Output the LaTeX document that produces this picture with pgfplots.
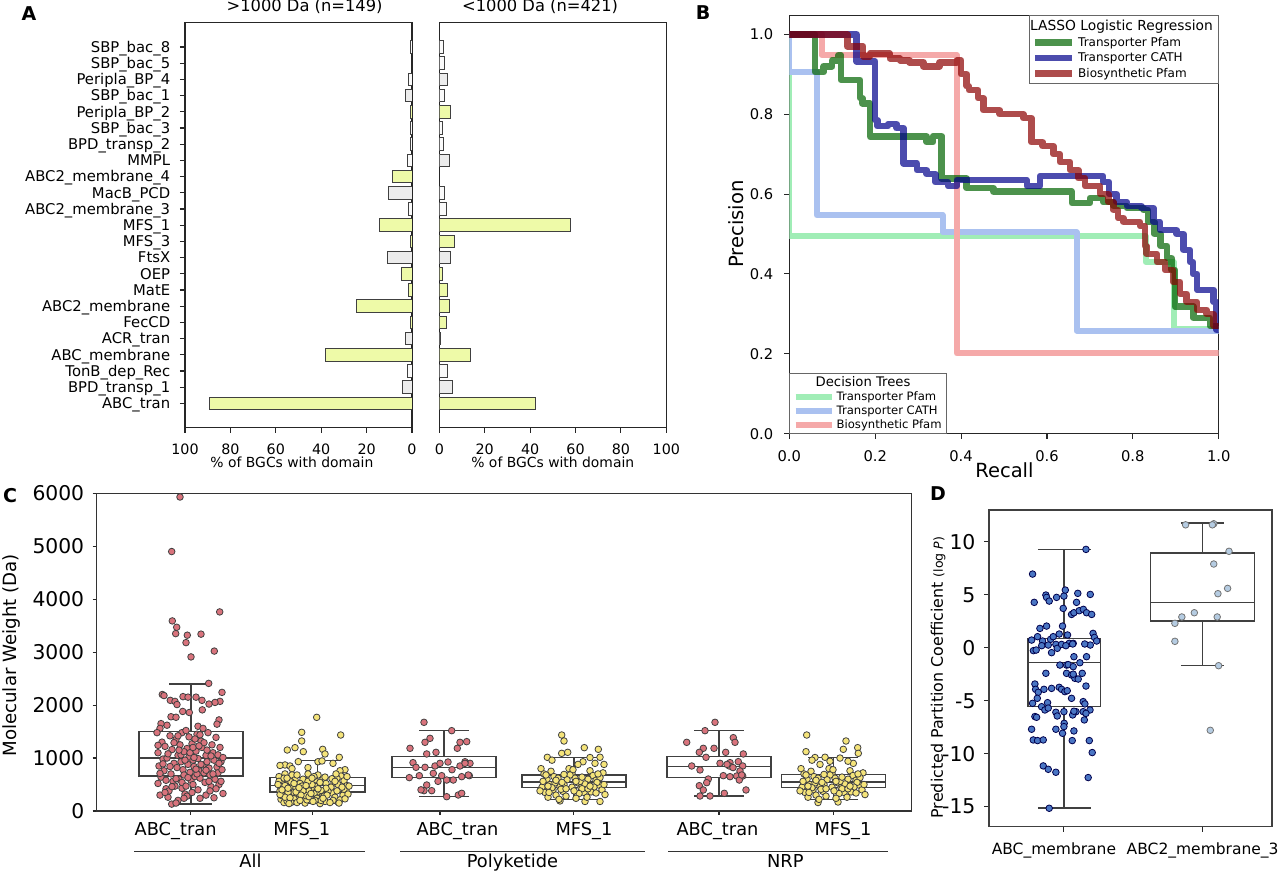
\documentclass[border=0pt]{standalone}
\usepackage{fontspec}
\setmainfont{DejaVu Sans}
\usepackage{pgfplots}
\pgfplotsset{compat=1.18}
\usepgfplotslibrary{statistics}
\definecolor{barY}{HTML}{EEFAA8}
\definecolor{barG}{HTML}{ECECEC}
\definecolor{barW}{HTML}{FAFAFA}
\definecolor{ptR}{HTML}{D9737C}
\definecolor{ptY}{HTML}{F5E47A}
\definecolor{ptB}{HTML}{4A76C4}
\definecolor{ptL}{HTML}{B5CCE2}
\definecolor{dtG}{HTML}{A0EDB6}
\definecolor{dtB}{HTML}{AAC1F0}
\definecolor{dtR}{HTML}{F5A9A9}
\definecolor{lsG}{RGB}{0,100,0}
\definecolor{lsB}{RGB}{0,0,139}
\definecolor{lsR}{RGB}{139,0,0}
\pgfplotsset{
  myax/.style={scale only axis, anchor=south west,
    axis line style={line width=1.1pt, black!85},
    tick style={line width=1.1pt, black!85},
    major tick length=5pt, tick align=outside, tick pos=left,
    /pgf/number format/assume math mode=true,
    /pgf/number format/1000 sep={}},
  Aax/.style={myax, width=227pt, height=405pt, xbar, bar width=0.78, bar shift=0pt,
    xmin=0, xmax=100, ymin=-1.5, ymax=23.5, xtick={0,20,40,60,80,100},
    xticklabel style={font=\fontsize{14.3}{16}\selectfont, anchor=base, yshift=-22pt},
    xlabel style={font=\fontsize{13.9}{16}\selectfont, anchor=base},
    title style={font=\fontsize{16.3}{18}\selectfont, anchor=base}},
  bY/.style={draw=black!75, line width=0.9pt, fill=barY},
  bG/.style={draw=black!75, line width=0.9pt, fill=barG},
  bW/.style={draw=black!75, line width=0.9pt, fill=barW},
}
\begin{document}
\begin{tikzpicture}[x=1pt,y=1pt]
\useasboundingbox (0,0) rectangle (1280,872);

% ---------------- Panel A left
\begin{axis}[Aax, at={(185pt,444.3pt)}, x dir=reverse,
  ytick={0,...,22},
  yticklabels={ABC\_tran, BPD\_transp\_1, TonB\_dep\_Rec, ABC\_membrane, ACR\_tran, FecCD, ABC2\_membrane, MatE, OEP, FtsX, MFS\_3, MFS\_1, ABC2\_membrane\_3, MacB\_PCD, ABC2\_membrane\_4, MMPL, BPD\_transp\_2, SBP\_bac\_3, Peripla\_BP\_2, SBP\_bac\_1, Peripla\_BP\_4, SBP\_bac\_5, SBP\_bac\_8},
  yticklabel style={font=\fontsize{14.8}{16}\selectfont, anchor=base east, xshift=-6.3pt, yshift=-5.4pt},
  xlabel={\% of BGCs with domain}, xlabel style={at={(axis description cs:0.471,0)}, yshift=-39.7pt},
  title={>1000 Da (n=149)}, title style={at={(axis description cs:0.527,1)}, yshift=4.7pt}]
\addplot[bY] coordinates {(89.3,0) (38.3,3) (0.7,5) (24.4,6) (1.5,7) (4.8,8) (0.7,10) (14.4,11) (8.8,14) (0.7,18)};
\addplot[bG] coordinates {(4.3,1) (2.8,4) (10.9,9) (10.3,13) (2.8,19)};
\addplot[bW] coordinates {(2.0,2) (1.5,12) (2.0,15) (0.7,16) (0.7,17) (1.5,20) (0.7,22)};
\end{axis}

% ---------------- Panel A right
\begin{axis}[Aax, at={(439.3pt,444.3pt)}, ytick=\empty,
  xlabel={\% of BGCs with domain}, xlabel style={at={(axis description cs:0.5,0)}, yshift=-39.7pt},
  title={<1000 Da (n=421)}, title style={at={(axis description cs:0.444,1)}, yshift=4.7pt}]
\addplot[bY] coordinates {(42.5,0) (13.7,3) (3.2,5) (4.4,6) (3.7,7) (1.6,8) (6.8,10) (57.8,11) (5.1,18)};
\addplot[bG] coordinates {(5.7,1) (0.4,4) (5.1,9) (4.4,15) (3.7,20)};
\addplot[bW] coordinates {(3.7,2) (3.1,12) (2.4,13) (1.8,16) (1.3,17) (2.4,19) (2.1,21) (1.8,22)};
\end{axis}

% ---------------- Panel B: decision trees
\begin{axis}[myax, at={(789.3pt,438.3pt)}, width=429.4pt, height=418.4pt,
  xmin=0, xmax=1, ymin=0, ymax=1.0476,
  xtick={0,0.2,0.4,0.6,0.8,1}, ytick={0,0.2,0.4,0.6,0.8,1},
  /pgf/number format/fixed, /pgf/number format/fixed zerofill, /pgf/number format/precision=1,
  xticklabel style={font=\fontsize{14.7}{16}\selectfont, anchor=base, yshift=-23pt},
  yticklabel style={font=\fontsize{14.7}{16}\selectfont, anchor=base east, xshift=-7.6pt, yshift=-5.4pt},
  xlabel={Recall}, xlabel style={font=\fontsize{19.5}{22}\selectfont, at={(axis description cs:0.501,0)}, anchor=base, yshift=-43.5pt},
  ylabel={Precision}, ylabel style={font=\fontsize{19.6}{22}\selectfont, at={(axis description cs:-0.123,0.501)}, anchor=center},
  legend image code/.code={\draw[#1] (0pt,0pt) -- (36pt,0pt);},
  legend cell align=left,
  legend style={at={(0,0)}, anchor=south west, draw=black!60, line width=0.8pt,
    font=\fontsize{11.6}{13}\selectfont, inner xsep=3pt, inner ysep=1pt,
    nodes={inner sep=2pt}}]
\addlegendimage{empty legend}
\addlegendentry{\hspace*{-21pt}\fontsize{13.2}{15}\selectfont Decision Trees}
\addplot[const plot, dtG, line width=6pt, line join=round] coordinates {(0,1) (0,0.494) (0.83,0.43) (0.895,0.262) (1,0.262)};
\addlegendentry{Transporter Pfam}
\addplot[const plot, dtB, line width=6pt, line join=round] coordinates {(0,1) (0,0.906) (0.064,0.547) (0.357,0.504) (0.669,0.258) (1,0.258)};
\addlegendentry{Transporter CATH}
\addplot[const plot, dtR, line width=6pt, line join=round] coordinates {(0,1) (0.075,0.948) (0.39,0.201) (1,0.201)};
\addlegendentry{Biosynthetic Pfam}
\end{axis}

% ---------------- Panel B: LASSO
\begin{axis}[myax, at={(789.3pt,438.3pt)}, width=429.4pt, height=418.4pt,
  xmin=0, xmax=1, ymin=0, ymax=1.0476, hide axis,
  legend image code/.code={\draw[#1] (0pt,0pt) -- (37pt,0pt);},
  legend cell align=left,
  legend style={at={(1,1)}, anchor=north east, draw=black!60, line width=0.8pt,
    font=\fontsize{12}{14}\selectfont, inner xsep=3pt, inner ysep=2pt,
    nodes={inner sep=2.5pt}}]
\addlegendimage{empty legend}
\addlegendentry{\hspace*{-48pt}\fontsize{13.8}{16}\selectfont LASSO Logistic Regression}
\addplot[const plot, lsG, opacity=0.7, line width=6.5pt, line join=round] coordinates {(0,1) (0.06,0.905) (0.08,0.92) (0.1,0.935) (0.115,0.948) (0.12,0.886) (0.165,0.84) (0.17,0.827) (0.188,0.744) (0.32,0.73) (0.335,0.745) (0.355,0.639) (0.413,0.615) (0.475,0.606) (0.658,0.577) (0.70,0.59) (0.731,0.58) (0.755,0.57) (0.786,0.565) (0.825,0.56) (0.835,0.53) (0.85,0.50) (0.865,0.47) (0.88,0.44) (0.89,0.41) (0.898,0.318) (0.941,0.29) (0.98,0.27) (1,0.27)};
\addlegendentry{Transporter Pfam}
\addplot[const plot, lsB, opacity=0.7, line width=6.5pt, line join=round] coordinates {(0,1) (0.157,0.932) (0.2,0.785) (0.205,0.77) (0.23,0.775) (0.25,0.765) (0.266,0.677) (0.297,0.66) (0.32,0.65) (0.34,0.63) (0.37,0.62) (0.39,0.635) (0.553,0.62) (0.584,0.645) (0.731,0.63) (0.745,0.60) (0.762,0.58) (0.786,0.57) (0.82,0.565) (0.848,0.53) (0.863,0.51) (0.902,0.50) (0.918,0.46) (0.933,0.43) (0.94,0.40) (0.95,0.36) (0.988,0.33) (0.995,0.26) (1,0.26)};
\addlegendentry{Transporter CATH}
\addplot[const plot, lsR, opacity=0.7, line width=6.5pt, line join=round] coordinates {(0,1) (0.135,0.97) (0.172,0.945) (0.188,0.952) (0.234,0.94) (0.258,0.935) (0.28,0.93) (0.312,0.92) (0.35,0.93) (0.39,0.935) (0.40,0.90) (0.413,0.87) (0.418,0.86) (0.44,0.84) (0.452,0.81) (0.49,0.80) (0.545,0.79) (0.564,0.73) (0.59,0.72) (0.615,0.70) (0.63,0.68) (0.654,0.66) (0.673,0.64) (0.689,0.62) (0.724,0.60) (0.743,0.58) (0.755,0.56) (0.766,0.54) (0.778,0.53) (0.817,0.52) (0.828,0.47) (0.832,0.45) (0.856,0.43) (0.875,0.41) (0.894,0.38) (0.91,0.35) (0.925,0.33) (0.949,0.31) (0.972,0.30) (0.988,0.27) (1,0.27)};
\addlegendentry{Biosynthetic Pfam}
\end{axis}

% ---------------- Panel C
\begin{axis}[myax, at={(96.7pt,61pt)}, width=815pt, height=317.7pt,
  xmin=96.7, xmax=911.7, ymin=0, ymax=6000,
  ytick={0,1000,2000,3000,4000,5000,6000},
  xtick={190.7,312.7,440,573.3,719,833.7}, xticklabels={},
  major tick length=4pt,
  axis line style={line width=1.3pt, black!80},
  yticklabel style={font=\fontsize{20.3}{24}\selectfont, anchor=base east, xshift=-5pt, yshift=-7.4pt},
  ylabel={Molecular Weight (Da)}, ylabel style={font=\fontsize{18.2}{22}\selectfont, at={(axis description cs:-0.104,0.49)}, anchor=center},
  boxplot/draw direction=y, boxplot/box extend=104, boxplot/whisker extend=50]
\addplot[only marks, mark=*, mark size=3.3pt, mark options={fill=ptR, draw=black!75, line width=0.8pt}] coordinates {
(180,5930) (171.7,4900) (219.7,3760) (172.3,3590) (176.7,3470) (175.7,3350) (187.3,3320) (201,3340) (186,3180) (214.3,3020) (191,2910) (208.7,2410) (222,2240) (162.3,2200) (164,2180) (183,2160) (188,2150) (196,2150) (170.3,2090) (175,2070) (177,2010) (202,2090) (220,2070) (215,2050) (209,2020) (202.3,1910) (182.7,1880) (189.3,1860) (171,1780) (176,1770) (167,1620) (161,1650) (160,1560) (219,1720) (217,1640) (198,1600)
(157,1480) (162,1300) (165,1220) (158,1100) (163,980) (159,850) (164,760) (161,640) (158,520) (166,420) (160,300) (168,260) (170,1420) (172,1160) (174,900) (171,700) (173,560) (169,380) (176,1350) (178,1050) (177,820) (179,600) (175,470) (180,1250) (182,1480) (181,930) (183,780) (184,680) (182,430) (185,320) (186,1520) (187,1180) (189,1020) (188,880) (190,730) (191,580) (189,1400) (192,1270) (193,960) (194,840) (195,650) (193,500) (196,1130) (197,1450) (198,990) (199,760) (200,620) (198,400) (201,1320) (202,1200) (203,870) (204,720) (205,540) (206,1050) (207,930) (208,1480) (209,810) (210,680) (211,460) (212,1250) (213,1100) (214,960) (215,600) (216,1390) (217,830) (218,720) (219,500) (220,1200) (221,930) (222,780) (223,330) (187,280) (178,200) (171.7,130) (176,150) (200,240) (206,300) (214,250) (181,1060) (195,1360) (167,1000) (203,1560) (211,1040) (176,610) (184,1120) (192,350) (209,560) (163,890) (218,1060) (174,1290) (197,700) (185,960) (206,770) (190,1100) (170,840) (216,420) (182,540) (200,1440) (160,710) (166,580) (179,1150) (188,630) (194,1010) (201,880) (213,700) (221,560) (168,1080) (186,470) (204,1290) (158,1240) (223,1010) (196,790) (184,240) (210,380) (172,460) (193,1200) (207,1150) (165,350) (219,900) (178,1420) (199,1230)
(424,1675) (430,1372) (425,1297) (410,1184) (451.7,1517) (460,1297) (457.3,1184) (426.7,1077) (436,1108) (413,913) (425,825) (416,825) (435,850) (448,925) (440,900) (460,850) (470,900) (465,930) (409.3,630) (419.3,667) (433.3,711) (441.7,667) (446.7,585) (453.3,585) (461.7,648) (469.3,667) (426.7,491) (424,384) (431.7,384) (421,400) (446.7,270) (458.3,302) (466.7,1310) (465,900) (468.3,680) (461.7,334) (438,560) (452,780)
(715,1675) (705,1517) (686.7,1297) (733.3,1385) (735,1297) (703.3,1184) (714,1184) (725.7,1108) (743.3,1077) (699.3,1108) (706,1014) (730,913) (738.3,932) (742.7,850) (691.7,850) (720,900) (729.3,850) (700,775) (740,756) (723.3,667) (730,648) (736.7,661) (742.7,661) (708.3,604) (706.7,535) (699.3,478) (703.3,397) (739.3,585) (700,283) (710,283) (724.3,334) (746,397) (741.7,680) (733,820) (727,880)};
\addplot[only marks, mark=*, mark size=3.3pt, mark options={fill=ptY, draw=black!75, line width=0.8pt}] coordinates {
(316.7,1769) (301.7,1486) (301.7,1322) (340.7,1435) (287.3,1152) (295,1196) (303.3,1120) (322.7,1165) (325,1077) (339.3,1014) (298.3,932) (285,869) (280,860) (290,850) (318,930) (322,945) (333,900) (345,780) (340,760) (292,800) (308,820)
(279,650) (283,520) (286,410) (289,300) (281,220) (284,160) (288,580) (291,470) (294,350) (297,250) (280,380) (285,700) (290,620) (293,540) (296,440) (299,330) (302,230) (305,150) (282,290) (287,190) (292,680) (295,590) (298,500) (301,400) (304,310) (307,210) (310,640) (313,560) (316,460) (319,360) (322,270) (325,180) (308,700) (311,420) (314,330) (317,240) (320,140) (323,610) (326,520) (329,430) (332,340) (335,260) (338,170) (341,660) (344,570) (347,480) (346,390) (343,300) (340,210) (337,620) (334,530) (331,450) (328,370) (324,280) (321,200) (318,680) (315,590) (312,500) (309,380) (306,290) (303,600) (300,520) (297,680) (294,230) (291,160) (288,350) (285,260) (282,460) (279,560) (284,620) (290,250) (296,360) (302,470) (308,560) (314,650) (320,540) (326,430) (332,610) (338,500) (344,410) (348,320) (345,230) (339,150) (333,200) (327,300) (321,390) (315,200) (309,270) (303,380) (297,160) (291,550) (285,480) (280,310) (287,620) (299,440) (311,330) (323,240) (335,560) (347,650) (342,450) (330,160) (318,420) (306,480) (294,520) (282,400) (289,140) (301,300) (313,180) (325,640) (337,380) (349,470) (336,700) (312,620) (300,200) (288,430) (278,500)
(561.7,1435) (564,1322) (584.3,1196) (598.3,1165) (561.7,1089) (567.7,1108) (547.3,1014) (590,1010) (600,1015) (583,930) (595,900) (604,880) (578,880) (552,960) (560,190) (585,180) (600,180)
(541,800) (544,700) (547,600) (550,500) (553,400) (556,300) (559,220) (542,450) (545,350) (548,260) (551,750) (554,650) (557,550) (560,460) (563,370) (566,280) (569,800) (572,710) (575,620) (578,530) (581,440) (584,350) (587,260) (590,760) (593,670) (596,580) (599,490) (602,400) (605,310) (603,720) (600,630) (597,540) (594,450) (591,360) (588,600) (585,510) (582,420) (579,330) (576,240) (573,780) (570,680) (567,590) (564,500) (561,410) (558,620) (555,530) (552,440) (549,350) (546,680) (543,560) (540,380) (548,470) (556,580) (564,690) (572,450) (580,560) (588,420) (596,340) (604,500) (574,380) (566,420) (582,640) (598,700) (590,470) (562,540) (576,560)
(806.7,1435) (846,1322) (843.3,1165) (857.7,1196) (858.3,1089) (806,1120) (853.3,900) (815,1010) (825,1015) (840,1000) (848,940) (812,960) (830,940) (820,880) (818,160) (838,170)
(801,800) (804,700) (807,600) (810,500) (813,400) (816,300) (819,220) (802,450) (805,350) (808,260) (811,750) (814,650) (817,550) (820,460) (823,370) (826,280) (829,800) (832,710) (835,620) (838,530) (841,440) (844,350) (847,260) (850,760) (853,670) (856,580) (859,490) (862,400) (865,310) (863,720) (860,630) (857,540) (854,450) (851,360) (848,600) (845,510) (842,420) (839,330) (836,240) (833,780) (830,680) (827,590) (824,500) (821,410) (818,620) (815,530) (812,440) (809,350) (806,680) (803,560) (800,380) (808,470) (816,580) (824,690) (832,450) (840,560) (848,420) (856,340) (864,500) (834,380) (826,420) (842,640) (858,700) (850,470) (822,540) (836,560)};
\addplot[boxplot prepared={draw position=190.7, lower whisker=130, lower quartile=660, median=1000, upper quartile=1500, upper whisker=2400, whisker extend=43}, draw=black!75, line width=1.6pt] coordinates {};
\addplot[boxplot prepared={draw position=317.5, lower whisker=140, lower quartile=360, median=480, upper quartile=630, upper whisker=950, box extend=95, whisker extend=46}, draw=black!75, line width=1.6pt] coordinates {};
\addplot[boxplot prepared={draw position=444, lower whisker=270, lower quartile=636, median=825, upper quartile=1026, upper whisker=1517}, draw=black!75, line width=1.6pt] coordinates {};
\addplot[boxplot prepared={draw position=573.7, lower whisker=220, lower quartile=447, median=553, upper quartile=680, upper whisker=1007}, draw=black!75, line width=1.6pt] coordinates {};
\addplot[boxplot prepared={draw position=719.2, lower whisker=283, lower quartile=636, median=837, upper quartile=1026, upper whisker=1517}, draw=black!75, line width=1.6pt] coordinates {};
\addplot[boxplot prepared={draw position=833.4, lower whisker=220, lower quartile=447, median=553, upper quartile=693, upper whisker=1007}, draw=black!75, line width=1.6pt] coordinates {};
\end{axis}

% ---------------- Panel D
\begin{axis}[myax, at={(989pt,45.3pt)}, width=283pt, height=316.7pt,
  xmin=-0.54, xmax=1.5, ymin=-16.9, ymax=13.0,
  ytick={-15,-10,-5,0,5,10}, xtick={0,1}, xticklabels={\hspace*{-20pt}ABC\_membrane, ABC2\_membrane\_3},
  axis line style={line width=1.3pt, black!75},
  xticklabel style={font=\fontsize{15.5}{18}\selectfont, anchor=base, yshift=-22.9pt},
  yticklabel style={font=\fontsize{20.4}{24}\selectfont, anchor=base east, xshift=-5pt, yshift=-7.4pt},
  ylabel={Predicted Partition Coefficient {\fontsize{12.5}{14}\selectfont(log \textit{P})}},
  ylabel style={font=\fontsize{15.9}{18}\selectfont, at={(axis description cs:-0.18,0.471)}, anchor=center},
  boxplot/draw direction=y]
\addplot[boxplot prepared={draw position=0.002, lower whisker=-15.15, lower quartile=-5.57, median=-1.4, upper quartile=0.89, upper whisker=9.28, box extend=0.52, whisker extend=0.38}, draw=black!75, line width=1.5pt] coordinates {};
\addplot[boxplot prepared={draw position=0.998, lower whisker=-1.7, lower quartile=2.52, median=4.28, upper quartile=8.96, upper whisker=11.76, box extend=0.75, whisker extend=0.31}, draw=black!75, line width=1.5pt] coordinates {};
\addplot[only marks, mark=*, mark size=3.3pt, mark options={fill=ptB, draw=black!70!blue, line width=0.8pt}] coordinates {
(0.159,9.28) (-0.226,6.95) (-0.214,4.28) (-0.13,4.97) (-0.125,4.75) (-0.106,4.4) (-0.053,4.75) (0,4.87) (0.01,5.44) (0.1,5.13) (0.19,5.03) (-0.005,3.71) (0.091,4.28) (0.055,3.14) (0.072,3.3) (0.11,3.49) (0.14,3.62) (0.163,3.3) (0.2,3.14) (-0.125,2.04) (-0.173,1.82) (-0.01,2.04) (-0.233,0.72) (-0.19,1.04) (-0.154,0.63) (-0.096,0.79) (-0.077,1.04) (-0.034,1.29) (0.026,1.2) (0.038,0.41) (0.067,0.41) (0.21,1.35) (0.22,0.97) (0.236,0.63) (0.19,0.25) (0.15,0.35) (-0.22,-0.28) (-0.2,-0.22) (-0.16,0.19) (-0.113,0.25) (-0.089,-0.47) (-0.058,0.31) (-0.048,-0.06) (-0.017,0.31) (0.014,0.19) (0.063,0.35) (0.072,-0.85) (0.163,-0.85) (0.019,-1.64) (-0.029,-1.64) (0.031,-1.6) (0.067,-1.79) (0.115,-1.42) (-0.13,-2.42) (0.019,-2.42) (0.055,-2.58) (0.079,-2.89) (0.067,-2.5) (0.132,-2.42) (0.103,-2.96) (0.159,-3.62) (-0.209,-3.43) (-0.204,-3.93) (-0.185,-4.21) (-0.192,-4.78) (-0.144,-3.93) (-0.089,-3.84) (-0.034,-3.74) (-0.017,-3.93) (0.007,-4.15) (0.024,-4.06) (0.055,-4.78) (-0.226,-5.25) (0.139,-5.09) (0.151,-5.31) (-0.118,-5.19) (-0.161,-5.57) (-0.137,-5.88) (-0.113,-5.7) (-0.058,-6.1) (0,-6.04) (0.087,-6.04) (0.139,-6.04) (0.188,-5.88) (0.159,-6.2) (-0.209,-6.5) (-0.197,-6.57) (-0.048,-6.45) (0.063,-6.35) (0.072,-6.0) (0.147,-6.82) (0.002,-7.14) (0,-7.45) (-0.233,-7.7) (-0.058,-7.7) (0.072,-7.86) (-0.221,-8.71) (-0.19,-8.77) (-0.149,-8.71) (-0.01,-8.08) (0.06,-8.77) (0.183,-8.77) (0.204,-9.9) (-0.149,-11.16) (-0.113,-11.48) (-0.058,-11.76) (0.175,-12.26) (-0.106,-15.16)};
\addplot[only marks, mark=*, mark size=3.3pt, mark options={fill=ptL, draw=black!55, line width=0.8pt}] coordinates {
(0.877,11.6) (1.08,11.7) (1.07,11.6) (1.19,9.1) (1.08,7.9) (1.18,5.6) (1.11,5.1) (0.94,3.3) (0.85,2.9) (1.105,2.9) (0.80,2.3) (0.80,0.6) (1.115,-1.7) (1.055,-7.8)};
\end{axis}

% ---------------- Panel C category labels and groups
\begin{scope}[every node/.style={anchor=base, inner sep=0pt, font=\fontsize{17.8}{20}\selectfont}]
\node at (175.6,36) {ABC\_tran};
\node at (301.7,36) {MFS\_1};
\node at (457.5,36) {ABC\_tran};
\node at (584,36) {MFS\_1};
\node at (717.5,36) {ABC\_tran};
\node at (843,36) {MFS\_1};
\node at (250.5,4) {All};
\node at (512.5,4) {Polyketide};
\node at (785.3,4) {NRP};
\end{scope}
\draw[line width=1pt, black!80] (134.3,20.3) -- (365,20.3);
\draw[line width=1pt, black!80] (400,20.3) -- (645,20.3);
\draw[line width=1pt, black!80] (668.3,20.3) -- (887.7,20.3);

% ---------------- Panel letters
\begin{scope}[every node/.style={font=\fontsize{19}{22}\selectfont\bfseries, inner sep=0pt}]
\node at (29,858) {A};
\node at (703,859) {B};
\node at (10,376) {C};
\node at (938,378) {D};
\end{scope}
\end{tikzpicture}
\end{document}
